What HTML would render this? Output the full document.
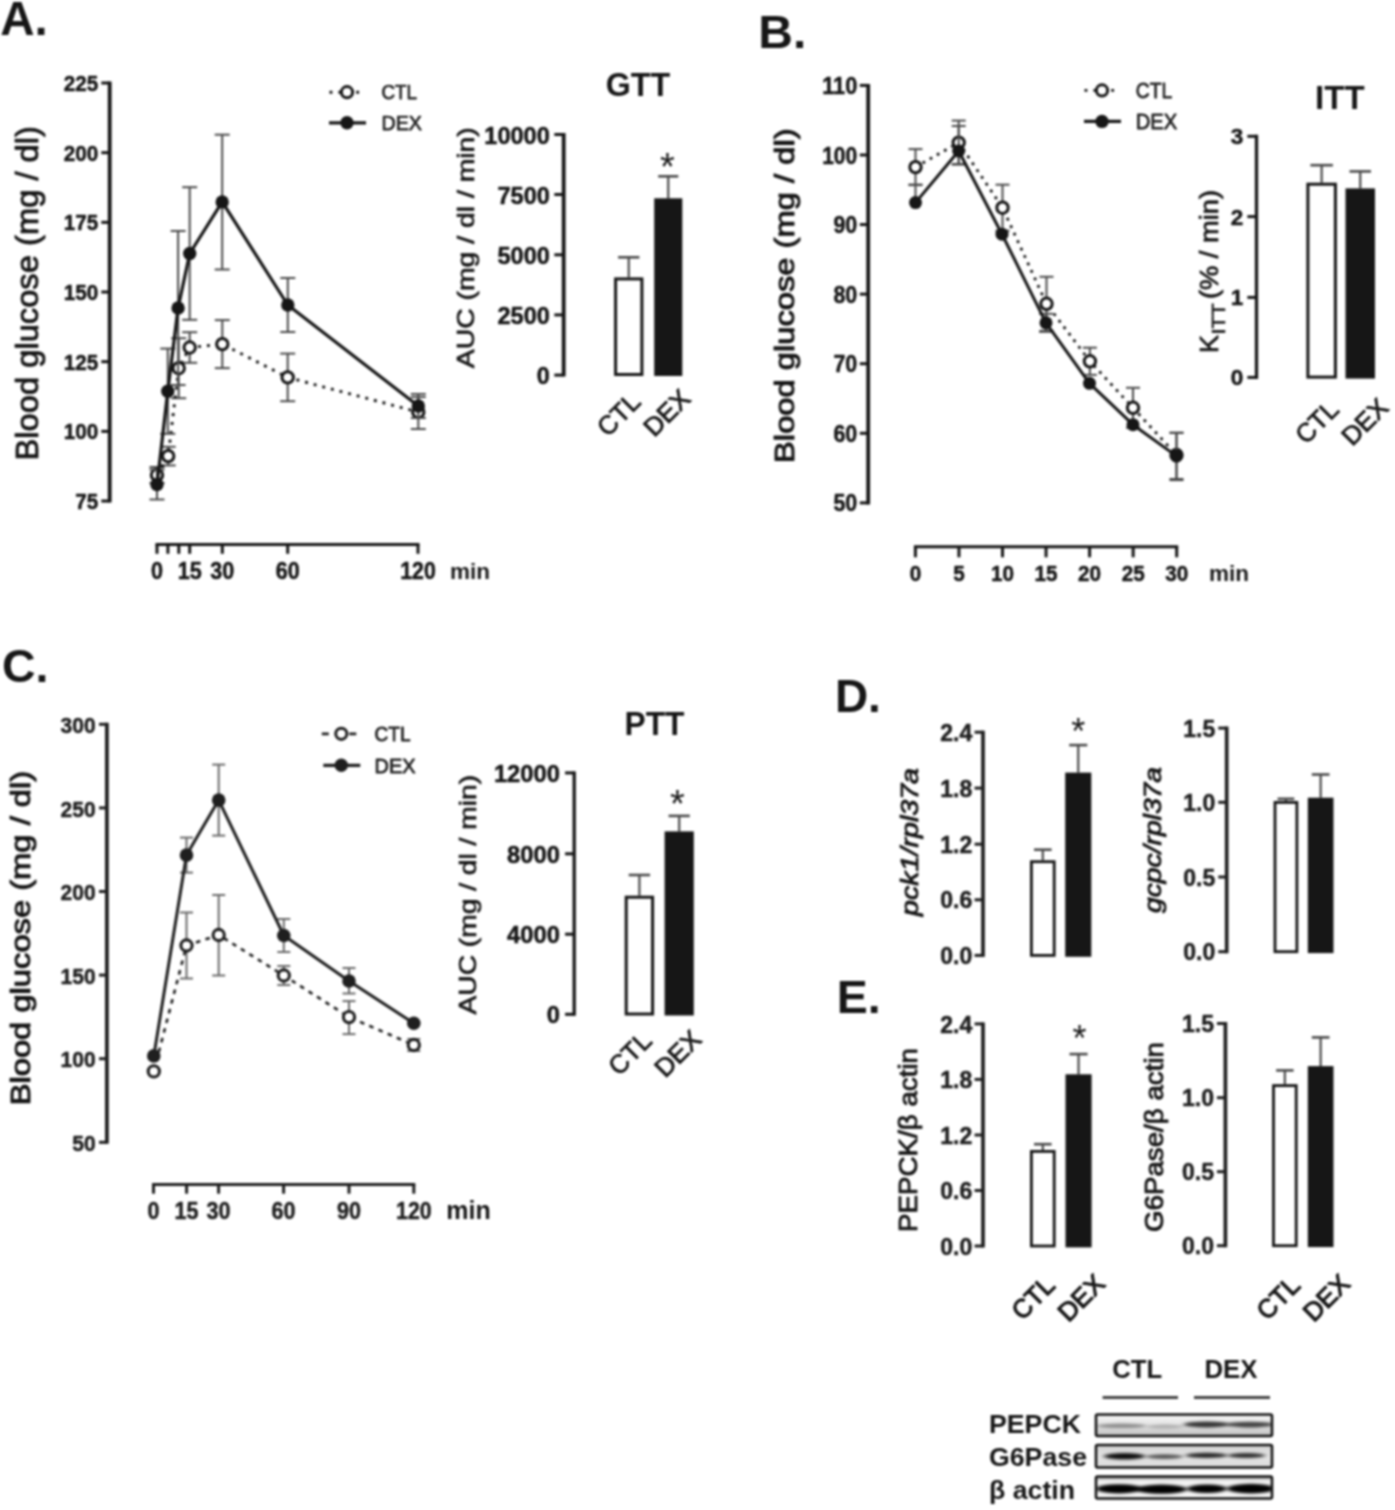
<!DOCTYPE html>
<html lang="en">
<head>
<meta charset="utf-8">
<title>Figure: GTT, ITT, PTT, pck1 and g6pc expression in CTL and DEX</title>
<style>
html, body { margin: 0; padding: 0; background: #fff; }
body { width: 1395px; height: 1510px; overflow: hidden; font-family: "Liberation Sans", sans-serif; }
svg { display: block; font-family: "Liberation Sans", sans-serif; filter: blur(0.8px); }
</style>
</head>
<body>
<svg width="1395" height="1510" viewBox="0 0 1395 1510">
<rect width="1395" height="1510" fill="#fff"/>
<text transform="translate(0.3 35.3)" font-size="48.5" font-weight="bold" text-anchor="start" fill="#161616" textLength="47.5" lengthAdjust="spacingAndGlyphs" >A.</text>
<text transform="translate(758.3 47.9)" font-size="46.5" font-weight="bold" text-anchor="start" fill="#161616" textLength="48" lengthAdjust="spacingAndGlyphs" >B.</text>
<text transform="translate(1.9 682)" font-size="46.5" font-weight="bold" text-anchor="start" fill="#161616" >C.</text>
<text transform="translate(834.9 712.3)" font-size="46" font-weight="bold" text-anchor="start" fill="#161616" >D.</text>
<text transform="translate(836.7 1012.9)" font-size="46.5" font-weight="bold" text-anchor="start" fill="#161616" >E.</text>
<path d="M109.7 81.5 V502.5" stroke="#161616" stroke-width="3.8" fill="none"/>
<line x1="101.3" y1="83.0" x2="109.7" y2="83.0" stroke="#161616" stroke-width="3" stroke-linecap="butt" />
<text transform="translate(98.2 91.0)" font-size="22.3" font-weight="bold" text-anchor="end" fill="#161616" textLength="34.5" lengthAdjust="spacingAndGlyphs" stroke="#161616" stroke-width="0.5" stroke-linejoin="round" >225</text>
<line x1="101.3" y1="152.67000000000002" x2="109.7" y2="152.67000000000002" stroke="#161616" stroke-width="3" stroke-linecap="butt" />
<text transform="translate(98.2 160.67000000000002)" font-size="22.3" font-weight="bold" text-anchor="end" fill="#161616" textLength="34.5" lengthAdjust="spacingAndGlyphs" stroke="#161616" stroke-width="0.5" stroke-linejoin="round" >200</text>
<line x1="101.3" y1="222.34" x2="109.7" y2="222.34" stroke="#161616" stroke-width="3" stroke-linecap="butt" />
<text transform="translate(98.2 230.34)" font-size="22.3" font-weight="bold" text-anchor="end" fill="#161616" textLength="34.5" lengthAdjust="spacingAndGlyphs" stroke="#161616" stroke-width="0.5" stroke-linejoin="round" >175</text>
<line x1="101.3" y1="292.01" x2="109.7" y2="292.01" stroke="#161616" stroke-width="3" stroke-linecap="butt" />
<text transform="translate(98.2 300.01)" font-size="22.3" font-weight="bold" text-anchor="end" fill="#161616" textLength="34.5" lengthAdjust="spacingAndGlyphs" stroke="#161616" stroke-width="0.5" stroke-linejoin="round" >150</text>
<line x1="101.3" y1="361.68" x2="109.7" y2="361.68" stroke="#161616" stroke-width="3" stroke-linecap="butt" />
<text transform="translate(98.2 369.68)" font-size="22.3" font-weight="bold" text-anchor="end" fill="#161616" textLength="34.5" lengthAdjust="spacingAndGlyphs" stroke="#161616" stroke-width="0.5" stroke-linejoin="round" >125</text>
<line x1="101.3" y1="431.35" x2="109.7" y2="431.35" stroke="#161616" stroke-width="3" stroke-linecap="butt" />
<text transform="translate(98.2 439.35)" font-size="22.3" font-weight="bold" text-anchor="end" fill="#161616" textLength="34.5" lengthAdjust="spacingAndGlyphs" stroke="#161616" stroke-width="0.5" stroke-linejoin="round" >100</text>
<line x1="101.3" y1="501.02" x2="109.7" y2="501.02" stroke="#161616" stroke-width="3" stroke-linecap="butt" />
<text transform="translate(98.2 509.02)" font-size="22.3" font-weight="bold" text-anchor="end" fill="#161616" textLength="23" lengthAdjust="spacingAndGlyphs" stroke="#161616" stroke-width="0.5" stroke-linejoin="round" >75</text>
<text transform="translate(38 293.3) rotate(-90)" font-size="30.5" font-weight="normal" text-anchor="middle" fill="#161616" textLength="334.5" lengthAdjust="spacingAndGlyphs" stroke="#161616" stroke-width="0.85" stroke-linejoin="round" >Blood glucose (mg / dl)</text>
<path d="M155.5 544.6 H419.5" stroke="#161616" stroke-width="3" fill="none"/>
<line x1="157" y1="544.6" x2="157" y2="553.8000000000001" stroke="#161616" stroke-width="3" stroke-linecap="butt" />
<line x1="167.9" y1="544.6" x2="167.9" y2="553.8000000000001" stroke="#161616" stroke-width="3" stroke-linecap="butt" />
<line x1="178.8" y1="544.6" x2="178.8" y2="553.8000000000001" stroke="#161616" stroke-width="3" stroke-linecap="butt" />
<line x1="189.7" y1="544.6" x2="189.7" y2="553.8000000000001" stroke="#161616" stroke-width="3" stroke-linecap="butt" />
<line x1="222.3" y1="544.6" x2="222.3" y2="553.8000000000001" stroke="#161616" stroke-width="3" stroke-linecap="butt" />
<line x1="287.7" y1="544.6" x2="287.7" y2="553.8000000000001" stroke="#161616" stroke-width="3" stroke-linecap="butt" />
<line x1="418" y1="544.6" x2="418" y2="553.8000000000001" stroke="#161616" stroke-width="3" stroke-linecap="butt" />
<text transform="translate(157 579)" font-size="23" font-weight="bold" text-anchor="middle" fill="#161616" textLength="12" lengthAdjust="spacingAndGlyphs" stroke="#161616" stroke-width="0.5" stroke-linejoin="round" >0</text>
<text transform="translate(189.7 579)" font-size="23" font-weight="bold" text-anchor="middle" fill="#161616" textLength="24" lengthAdjust="spacingAndGlyphs" stroke="#161616" stroke-width="0.5" stroke-linejoin="round" >15</text>
<text transform="translate(222.3 579)" font-size="23" font-weight="bold" text-anchor="middle" fill="#161616" textLength="24" lengthAdjust="spacingAndGlyphs" stroke="#161616" stroke-width="0.5" stroke-linejoin="round" >30</text>
<text transform="translate(287.7 579)" font-size="23" font-weight="bold" text-anchor="middle" fill="#161616" textLength="24" lengthAdjust="spacingAndGlyphs" stroke="#161616" stroke-width="0.5" stroke-linejoin="round" >60</text>
<text transform="translate(418 579)" font-size="23" font-weight="bold" text-anchor="middle" fill="#161616" textLength="35.5" lengthAdjust="spacingAndGlyphs" stroke="#161616" stroke-width="0.5" stroke-linejoin="round" >120</text>
<text transform="translate(450 579)" font-size="22.5" font-weight="bold" text-anchor="start" fill="#161616" textLength="40" lengthAdjust="spacingAndGlyphs" >min</text>
<line x1="157" y1="475" x2="157" y2="467" stroke="#4a4a4a" stroke-width="2" stroke-linecap="butt" />
<line x1="149.5" y1="467" x2="164.5" y2="467" stroke="#4a4a4a" stroke-width="2" stroke-linecap="butt" />
<line x1="157" y1="475" x2="157" y2="483" stroke="#4a4a4a" stroke-width="2" stroke-linecap="butt" />
<line x1="149.5" y1="483" x2="164.5" y2="483" stroke="#4a4a4a" stroke-width="2" stroke-linecap="butt" />
<line x1="168.2" y1="456.1" x2="168.2" y2="446.8" stroke="#4a4a4a" stroke-width="2" stroke-linecap="butt" />
<line x1="160.7" y1="446.8" x2="175.7" y2="446.8" stroke="#4a4a4a" stroke-width="2" stroke-linecap="butt" />
<line x1="168.2" y1="456.1" x2="168.2" y2="465.40000000000003" stroke="#4a4a4a" stroke-width="2" stroke-linecap="butt" />
<line x1="160.7" y1="465.40000000000003" x2="175.7" y2="465.40000000000003" stroke="#4a4a4a" stroke-width="2" stroke-linecap="butt" />
<line x1="178.7" y1="368.2" x2="178.7" y2="338.2" stroke="#4a4a4a" stroke-width="2" stroke-linecap="butt" />
<line x1="171.2" y1="338.2" x2="186.2" y2="338.2" stroke="#4a4a4a" stroke-width="2" stroke-linecap="butt" />
<line x1="178.7" y1="368.2" x2="178.7" y2="398.2" stroke="#4a4a4a" stroke-width="2" stroke-linecap="butt" />
<line x1="171.2" y1="398.2" x2="186.2" y2="398.2" stroke="#4a4a4a" stroke-width="2" stroke-linecap="butt" />
<line x1="189.7" y1="347.5" x2="189.7" y2="332.2" stroke="#4a4a4a" stroke-width="2" stroke-linecap="butt" />
<line x1="182.2" y1="332.2" x2="197.2" y2="332.2" stroke="#4a4a4a" stroke-width="2" stroke-linecap="butt" />
<line x1="189.7" y1="347.5" x2="189.7" y2="362.8" stroke="#4a4a4a" stroke-width="2" stroke-linecap="butt" />
<line x1="182.2" y1="362.8" x2="197.2" y2="362.8" stroke="#4a4a4a" stroke-width="2" stroke-linecap="butt" />
<line x1="222.3" y1="344.1" x2="222.3" y2="320.1" stroke="#4a4a4a" stroke-width="2" stroke-linecap="butt" />
<line x1="214.8" y1="320.1" x2="229.8" y2="320.1" stroke="#4a4a4a" stroke-width="2" stroke-linecap="butt" />
<line x1="222.3" y1="344.1" x2="222.3" y2="368.1" stroke="#4a4a4a" stroke-width="2" stroke-linecap="butt" />
<line x1="214.8" y1="368.1" x2="229.8" y2="368.1" stroke="#4a4a4a" stroke-width="2" stroke-linecap="butt" />
<line x1="287.7" y1="377.4" x2="287.7" y2="353.59999999999997" stroke="#4a4a4a" stroke-width="2" stroke-linecap="butt" />
<line x1="280.2" y1="353.59999999999997" x2="295.2" y2="353.59999999999997" stroke="#4a4a4a" stroke-width="2" stroke-linecap="butt" />
<line x1="287.7" y1="377.4" x2="287.7" y2="401.2" stroke="#4a4a4a" stroke-width="2" stroke-linecap="butt" />
<line x1="280.2" y1="401.2" x2="295.2" y2="401.2" stroke="#4a4a4a" stroke-width="2" stroke-linecap="butt" />
<line x1="418.3" y1="412" x2="418.3" y2="397" stroke="#4a4a4a" stroke-width="2" stroke-linecap="butt" />
<line x1="410.8" y1="397" x2="425.8" y2="397" stroke="#4a4a4a" stroke-width="2" stroke-linecap="butt" />
<line x1="418.3" y1="412" x2="418.3" y2="429" stroke="#4a4a4a" stroke-width="2" stroke-linecap="butt" />
<line x1="410.8" y1="429" x2="425.8" y2="429" stroke="#4a4a4a" stroke-width="2" stroke-linecap="butt" />
<polyline points="157,475 168.2,456.1 178.7,368.2 189.7,347.5 222.3,344.1 287.7,377.4 418.3,412" fill="none" stroke="#161616" stroke-width="2.9" stroke-dasharray="2.9 6"/>
<circle cx="157" cy="475" r="5.7" fill="#fff" stroke="#161616" stroke-width="3.0"/>
<circle cx="168.2" cy="456.1" r="5.7" fill="#fff" stroke="#161616" stroke-width="3.0"/>
<circle cx="178.7" cy="368.2" r="5.7" fill="#fff" stroke="#161616" stroke-width="3.0"/>
<circle cx="189.7" cy="347.5" r="5.7" fill="#fff" stroke="#161616" stroke-width="3.0"/>
<circle cx="222.3" cy="344.1" r="5.7" fill="#fff" stroke="#161616" stroke-width="3.0"/>
<circle cx="287.7" cy="377.4" r="5.7" fill="#fff" stroke="#161616" stroke-width="3.0"/>
<circle cx="418.3" cy="412" r="5.7" fill="#fff" stroke="#161616" stroke-width="3.0"/>
<line x1="157" y1="484.5" x2="157" y2="469.5" stroke="#4a4a4a" stroke-width="2" stroke-linecap="butt" />
<line x1="149.5" y1="469.5" x2="164.5" y2="469.5" stroke="#4a4a4a" stroke-width="2" stroke-linecap="butt" />
<line x1="157" y1="484.5" x2="157" y2="499.5" stroke="#4a4a4a" stroke-width="2" stroke-linecap="butt" />
<line x1="149.5" y1="499.5" x2="164.5" y2="499.5" stroke="#4a4a4a" stroke-width="2" stroke-linecap="butt" />
<line x1="167.8" y1="391.2" x2="167.8" y2="348.59999999999997" stroke="#4a4a4a" stroke-width="2" stroke-linecap="butt" />
<line x1="160.3" y1="348.59999999999997" x2="175.3" y2="348.59999999999997" stroke="#4a4a4a" stroke-width="2" stroke-linecap="butt" />
<line x1="167.8" y1="391.2" x2="167.8" y2="433.8" stroke="#4a4a4a" stroke-width="2" stroke-linecap="butt" />
<line x1="160.3" y1="433.8" x2="175.3" y2="433.8" stroke="#4a4a4a" stroke-width="2" stroke-linecap="butt" />
<line x1="178.1" y1="308" x2="178.1" y2="231" stroke="#4a4a4a" stroke-width="2" stroke-linecap="butt" />
<line x1="170.6" y1="231" x2="185.6" y2="231" stroke="#4a4a4a" stroke-width="2" stroke-linecap="butt" />
<line x1="178.1" y1="308" x2="178.1" y2="385" stroke="#4a4a4a" stroke-width="2" stroke-linecap="butt" />
<line x1="170.6" y1="385" x2="185.6" y2="385" stroke="#4a4a4a" stroke-width="2" stroke-linecap="butt" />
<line x1="189.7" y1="253.5" x2="189.7" y2="187.2" stroke="#4a4a4a" stroke-width="2" stroke-linecap="butt" />
<line x1="182.2" y1="187.2" x2="197.2" y2="187.2" stroke="#4a4a4a" stroke-width="2" stroke-linecap="butt" />
<line x1="189.7" y1="253.5" x2="189.7" y2="319.8" stroke="#4a4a4a" stroke-width="2" stroke-linecap="butt" />
<line x1="182.2" y1="319.8" x2="197.2" y2="319.8" stroke="#4a4a4a" stroke-width="2" stroke-linecap="butt" />
<line x1="222.2" y1="201.9" x2="222.2" y2="134.7" stroke="#4a4a4a" stroke-width="2" stroke-linecap="butt" />
<line x1="214.7" y1="134.7" x2="229.7" y2="134.7" stroke="#4a4a4a" stroke-width="2" stroke-linecap="butt" />
<line x1="222.2" y1="201.9" x2="222.2" y2="269.5" stroke="#4a4a4a" stroke-width="2" stroke-linecap="butt" />
<line x1="214.7" y1="269.5" x2="229.7" y2="269.5" stroke="#4a4a4a" stroke-width="2" stroke-linecap="butt" />
<line x1="287.8" y1="305" x2="287.8" y2="278" stroke="#4a4a4a" stroke-width="2" stroke-linecap="butt" />
<line x1="280.3" y1="278" x2="295.3" y2="278" stroke="#4a4a4a" stroke-width="2" stroke-linecap="butt" />
<line x1="287.8" y1="305" x2="287.8" y2="332" stroke="#4a4a4a" stroke-width="2" stroke-linecap="butt" />
<line x1="280.3" y1="332" x2="295.3" y2="332" stroke="#4a4a4a" stroke-width="2" stroke-linecap="butt" />
<line x1="418.3" y1="406" x2="418.3" y2="394" stroke="#4a4a4a" stroke-width="2" stroke-linecap="butt" />
<line x1="410.8" y1="394" x2="425.8" y2="394" stroke="#4a4a4a" stroke-width="2" stroke-linecap="butt" />
<line x1="418.3" y1="406" x2="418.3" y2="418" stroke="#4a4a4a" stroke-width="2" stroke-linecap="butt" />
<line x1="410.8" y1="418" x2="425.8" y2="418" stroke="#4a4a4a" stroke-width="2" stroke-linecap="butt" />
<polyline points="157,484.5 167.8,391.2 178.1,308 189.7,253.5 222.2,201.9 287.8,305 418.3,406" fill="none" stroke="#161616" stroke-width="3.2" stroke-linejoin="round"/>
<circle cx="157" cy="484.5" r="6.7" fill="#161616"/>
<circle cx="167.8" cy="391.2" r="6.7" fill="#161616"/>
<circle cx="178.1" cy="308" r="6.7" fill="#161616"/>
<circle cx="189.7" cy="253.5" r="6.7" fill="#161616"/>
<circle cx="222.2" cy="201.9" r="6.7" fill="#161616"/>
<circle cx="287.8" cy="305" r="6.7" fill="#161616"/>
<circle cx="418.3" cy="406" r="6.7" fill="#161616"/>
<line x1="329.5" y1="92.2" x2="362.5" y2="92.2" stroke="#161616" stroke-width="2.9" stroke-dasharray="2.9 6"/>
<circle cx="347" cy="92.2" r="5.6" fill="#fff" stroke="#161616" stroke-width="3"/>
<text transform="translate(381.5 99.4)" font-size="20" font-weight="normal" text-anchor="start" fill="#222" textLength="35.5" lengthAdjust="spacingAndGlyphs" stroke="#222" stroke-width="0.75" stroke-linejoin="round" >CTL</text>
<line x1="329" y1="122.8" x2="366" y2="122.8" stroke="#161616" stroke-width="3.2" stroke-linecap="butt" />
<circle cx="347" cy="122.8" r="6.7" fill="#161616"/>
<text transform="translate(381.5 130.0)" font-size="20" font-weight="normal" text-anchor="start" fill="#222" textLength="40.5" lengthAdjust="spacingAndGlyphs" stroke="#222" stroke-width="0.75" stroke-linejoin="round" >DEX</text>
<text transform="translate(637.9 95.8)" font-size="33" font-weight="bold" text-anchor="middle" fill="#161616" textLength="64.5" lengthAdjust="spacingAndGlyphs" >GTT</text>
<path d="M563.7 133.0 V376.6" stroke="#161616" stroke-width="3.8" fill="none"/>
<line x1="554.3000000000001" y1="134.5" x2="563.7" y2="134.5" stroke="#161616" stroke-width="3" stroke-linecap="butt" />
<text transform="translate(549.8 143.7)" font-size="24" font-weight="bold" text-anchor="end" fill="#161616" textLength="65.5" lengthAdjust="spacingAndGlyphs" stroke="#161616" stroke-width="0.5" stroke-linejoin="round" >10000</text>
<line x1="554.3000000000001" y1="194.5" x2="563.7" y2="194.5" stroke="#161616" stroke-width="3" stroke-linecap="butt" />
<text transform="translate(549.8 203.7)" font-size="24" font-weight="bold" text-anchor="end" fill="#161616" textLength="52.3" lengthAdjust="spacingAndGlyphs" stroke="#161616" stroke-width="0.5" stroke-linejoin="round" >7500</text>
<line x1="554.3000000000001" y1="254.8" x2="563.7" y2="254.8" stroke="#161616" stroke-width="3" stroke-linecap="butt" />
<text transform="translate(549.8 264.0)" font-size="24" font-weight="bold" text-anchor="end" fill="#161616" textLength="52.3" lengthAdjust="spacingAndGlyphs" stroke="#161616" stroke-width="0.5" stroke-linejoin="round" >5000</text>
<line x1="554.3000000000001" y1="314.9" x2="563.7" y2="314.9" stroke="#161616" stroke-width="3" stroke-linecap="butt" />
<text transform="translate(549.8 324.09999999999997)" font-size="24" font-weight="bold" text-anchor="end" fill="#161616" textLength="52.3" lengthAdjust="spacingAndGlyphs" stroke="#161616" stroke-width="0.5" stroke-linejoin="round" >2500</text>
<line x1="554.3000000000001" y1="375.1" x2="563.7" y2="375.1" stroke="#161616" stroke-width="3" stroke-linecap="butt" />
<text transform="translate(549.8 384.3)" font-size="24" font-weight="bold" text-anchor="end" fill="#161616" textLength="13" lengthAdjust="spacingAndGlyphs" stroke="#161616" stroke-width="0.5" stroke-linejoin="round" >0</text>
<text transform="translate(474.3 247.7) rotate(-90)" font-size="24.5" font-weight="normal" text-anchor="middle" fill="#161616" textLength="241" lengthAdjust="spacingAndGlyphs" stroke="#161616" stroke-width="0.7" stroke-linejoin="round" >AUC (mg / dl / min)</text>
<line x1="628.75" y1="277.4" x2="628.75" y2="257.3" stroke="#4a4a4a" stroke-width="2.2" stroke-linecap="butt" />
<line x1="618.1" y1="257.3" x2="639.4" y2="257.3" stroke="#4a4a4a" stroke-width="2.6" stroke-linecap="butt" />
<rect x="615.6" y="278.9" width="26.299999999999955" height="95.60000000000002" fill="#fff" stroke="#161616" stroke-width="3"/>
<line x1="668.25" y1="198.3" x2="668.25" y2="176.3" stroke="#4a4a4a" stroke-width="2.2" stroke-linecap="butt" />
<line x1="658.2" y1="176.3" x2="678.3" y2="176.3" stroke="#4a4a4a" stroke-width="2.6" stroke-linecap="butt" />
<rect x="654.2" y="198.3" width="28.09999999999991" height="177.7" fill="#161616"/>
<text transform="translate(667.3 179.5)" font-size="38" font-weight="normal" text-anchor="middle" fill="#161616" >*</text>
<text transform="translate(625.0 420.6) rotate(-45)" font-size="26" font-weight="normal" text-anchor="middle" fill="#161616" textLength="48.5" lengthAdjust="spacingAndGlyphs" stroke="#161616" stroke-width="0.8" stroke-linejoin="round" >CTL</text>
<text transform="translate(673.1 419.2) rotate(-45)" font-size="26" font-weight="normal" text-anchor="middle" fill="#161616" textLength="53.5" lengthAdjust="spacingAndGlyphs" stroke="#161616" stroke-width="0.8" stroke-linejoin="round" >DEX</text>
<path d="M868.2 83.9 V504.4" stroke="#161616" stroke-width="3.8" fill="none"/>
<line x1="859.8000000000001" y1="85.4" x2="868.2" y2="85.4" stroke="#161616" stroke-width="3" stroke-linecap="butt" />
<text transform="translate(857.2 94.0)" font-size="23.2" font-weight="bold" text-anchor="end" fill="#161616" textLength="35" lengthAdjust="spacingAndGlyphs" stroke="#161616" stroke-width="0.5" stroke-linejoin="round" >110</text>
<line x1="859.8000000000001" y1="154.98000000000002" x2="868.2" y2="154.98000000000002" stroke="#161616" stroke-width="3" stroke-linecap="butt" />
<text transform="translate(857.2 163.58)" font-size="23.2" font-weight="bold" text-anchor="end" fill="#161616" textLength="35" lengthAdjust="spacingAndGlyphs" stroke="#161616" stroke-width="0.5" stroke-linejoin="round" >100</text>
<line x1="859.8000000000001" y1="224.56" x2="868.2" y2="224.56" stroke="#161616" stroke-width="3" stroke-linecap="butt" />
<text transform="translate(857.2 233.16)" font-size="23.2" font-weight="bold" text-anchor="end" fill="#161616" textLength="23.8" lengthAdjust="spacingAndGlyphs" stroke="#161616" stroke-width="0.5" stroke-linejoin="round" >90</text>
<line x1="859.8000000000001" y1="294.14" x2="868.2" y2="294.14" stroke="#161616" stroke-width="3" stroke-linecap="butt" />
<text transform="translate(857.2 302.74)" font-size="23.2" font-weight="bold" text-anchor="end" fill="#161616" textLength="23.8" lengthAdjust="spacingAndGlyphs" stroke="#161616" stroke-width="0.5" stroke-linejoin="round" >80</text>
<line x1="859.8000000000001" y1="363.72" x2="868.2" y2="363.72" stroke="#161616" stroke-width="3" stroke-linecap="butt" />
<text transform="translate(857.2 372.32000000000005)" font-size="23.2" font-weight="bold" text-anchor="end" fill="#161616" textLength="23.8" lengthAdjust="spacingAndGlyphs" stroke="#161616" stroke-width="0.5" stroke-linejoin="round" >70</text>
<line x1="859.8000000000001" y1="433.29999999999995" x2="868.2" y2="433.29999999999995" stroke="#161616" stroke-width="3" stroke-linecap="butt" />
<text transform="translate(857.2 441.9)" font-size="23.2" font-weight="bold" text-anchor="end" fill="#161616" textLength="23.8" lengthAdjust="spacingAndGlyphs" stroke="#161616" stroke-width="0.5" stroke-linejoin="round" >60</text>
<line x1="859.8000000000001" y1="502.88" x2="868.2" y2="502.88" stroke="#161616" stroke-width="3" stroke-linecap="butt" />
<text transform="translate(857.2 511.48)" font-size="23.2" font-weight="bold" text-anchor="end" fill="#161616" textLength="23.8" lengthAdjust="spacingAndGlyphs" stroke="#161616" stroke-width="0.5" stroke-linejoin="round" >50</text>
<text transform="translate(794.3 295.7) rotate(-90)" font-size="28" font-weight="normal" text-anchor="middle" fill="#161616" textLength="334.5" lengthAdjust="spacingAndGlyphs" stroke="#161616" stroke-width="1.0" stroke-linejoin="round" >Blood glucose (mg / dl)</text>
<path d="M913.9 546.8 H1178.1999999999998" stroke="#161616" stroke-width="3" fill="none"/>
<line x1="915.4" y1="546.8" x2="915.4" y2="557.3" stroke="#161616" stroke-width="3" stroke-linecap="butt" />
<line x1="958.9499999999999" y1="546.8" x2="958.9499999999999" y2="557.3" stroke="#161616" stroke-width="3" stroke-linecap="butt" />
<line x1="1002.5" y1="546.8" x2="1002.5" y2="557.3" stroke="#161616" stroke-width="3" stroke-linecap="butt" />
<line x1="1046.05" y1="546.8" x2="1046.05" y2="557.3" stroke="#161616" stroke-width="3" stroke-linecap="butt" />
<line x1="1089.6" y1="546.8" x2="1089.6" y2="557.3" stroke="#161616" stroke-width="3" stroke-linecap="butt" />
<line x1="1133.15" y1="546.8" x2="1133.15" y2="557.3" stroke="#161616" stroke-width="3" stroke-linecap="butt" />
<line x1="1176.6999999999998" y1="546.8" x2="1176.6999999999998" y2="557.3" stroke="#161616" stroke-width="3" stroke-linecap="butt" />
<text transform="translate(915.4 581)" font-size="22.5" font-weight="bold" text-anchor="middle" fill="#161616" textLength="11.5" lengthAdjust="spacingAndGlyphs" stroke="#161616" stroke-width="0.5" stroke-linejoin="round" >0</text>
<text transform="translate(958.9499999999999 581)" font-size="22.5" font-weight="bold" text-anchor="middle" fill="#161616" textLength="11.5" lengthAdjust="spacingAndGlyphs" stroke="#161616" stroke-width="0.5" stroke-linejoin="round" >5</text>
<text transform="translate(1002.5 581)" font-size="22.5" font-weight="bold" text-anchor="middle" fill="#161616" textLength="23" lengthAdjust="spacingAndGlyphs" stroke="#161616" stroke-width="0.5" stroke-linejoin="round" >10</text>
<text transform="translate(1046.05 581)" font-size="22.5" font-weight="bold" text-anchor="middle" fill="#161616" textLength="23" lengthAdjust="spacingAndGlyphs" stroke="#161616" stroke-width="0.5" stroke-linejoin="round" >15</text>
<text transform="translate(1089.6 581)" font-size="22.5" font-weight="bold" text-anchor="middle" fill="#161616" textLength="23" lengthAdjust="spacingAndGlyphs" stroke="#161616" stroke-width="0.5" stroke-linejoin="round" >20</text>
<text transform="translate(1133.15 581)" font-size="22.5" font-weight="bold" text-anchor="middle" fill="#161616" textLength="23" lengthAdjust="spacingAndGlyphs" stroke="#161616" stroke-width="0.5" stroke-linejoin="round" >25</text>
<text transform="translate(1176.6999999999998 581)" font-size="22.5" font-weight="bold" text-anchor="middle" fill="#161616" textLength="23" lengthAdjust="spacingAndGlyphs" stroke="#161616" stroke-width="0.5" stroke-linejoin="round" >30</text>
<text transform="translate(1209 581)" font-size="22.5" font-weight="bold" text-anchor="start" fill="#161616" textLength="40" lengthAdjust="spacingAndGlyphs" >min</text>
<line x1="915.5" y1="167.1" x2="915.5" y2="149.1" stroke="#4a4a4a" stroke-width="2" stroke-linecap="butt" />
<line x1="908.5" y1="149.1" x2="922.5" y2="149.1" stroke="#4a4a4a" stroke-width="2" stroke-linecap="butt" />
<line x1="915.5" y1="167.1" x2="915.5" y2="185.1" stroke="#4a4a4a" stroke-width="2" stroke-linecap="butt" />
<line x1="908.5" y1="185.1" x2="922.5" y2="185.1" stroke="#4a4a4a" stroke-width="2" stroke-linecap="butt" />
<line x1="958.7" y1="142.6" x2="958.7" y2="120.6" stroke="#4a4a4a" stroke-width="2" stroke-linecap="butt" />
<line x1="951.7" y1="120.6" x2="965.7" y2="120.6" stroke="#4a4a4a" stroke-width="2" stroke-linecap="butt" />
<line x1="958.7" y1="142.6" x2="958.7" y2="164.6" stroke="#4a4a4a" stroke-width="2" stroke-linecap="butt" />
<line x1="951.7" y1="164.6" x2="965.7" y2="164.6" stroke="#4a4a4a" stroke-width="2" stroke-linecap="butt" />
<line x1="1002.5" y1="207.7" x2="1002.5" y2="184.7" stroke="#4a4a4a" stroke-width="2" stroke-linecap="butt" />
<line x1="995.5" y1="184.7" x2="1009.5" y2="184.7" stroke="#4a4a4a" stroke-width="2" stroke-linecap="butt" />
<line x1="1002.5" y1="207.7" x2="1002.5" y2="230.7" stroke="#4a4a4a" stroke-width="2" stroke-linecap="butt" />
<line x1="995.5" y1="230.7" x2="1009.5" y2="230.7" stroke="#4a4a4a" stroke-width="2" stroke-linecap="butt" />
<line x1="1046.5" y1="303.8" x2="1046.5" y2="276.8" stroke="#4a4a4a" stroke-width="2" stroke-linecap="butt" />
<line x1="1039.5" y1="276.8" x2="1053.5" y2="276.8" stroke="#4a4a4a" stroke-width="2" stroke-linecap="butt" />
<line x1="1046.5" y1="303.8" x2="1046.5" y2="330.8" stroke="#4a4a4a" stroke-width="2" stroke-linecap="butt" />
<line x1="1039.5" y1="330.8" x2="1053.5" y2="330.8" stroke="#4a4a4a" stroke-width="2" stroke-linecap="butt" />
<line x1="1089.9" y1="361.3" x2="1089.9" y2="347.7" stroke="#4a4a4a" stroke-width="2" stroke-linecap="butt" />
<line x1="1082.9" y1="347.7" x2="1096.9" y2="347.7" stroke="#4a4a4a" stroke-width="2" stroke-linecap="butt" />
<line x1="1089.9" y1="361.3" x2="1089.9" y2="374.90000000000003" stroke="#4a4a4a" stroke-width="2" stroke-linecap="butt" />
<line x1="1082.9" y1="374.90000000000003" x2="1096.9" y2="374.90000000000003" stroke="#4a4a4a" stroke-width="2" stroke-linecap="butt" />
<line x1="1133" y1="407.8" x2="1133" y2="387.8" stroke="#4a4a4a" stroke-width="2" stroke-linecap="butt" />
<line x1="1126" y1="387.8" x2="1140" y2="387.8" stroke="#4a4a4a" stroke-width="2" stroke-linecap="butt" />
<line x1="1133" y1="407.8" x2="1133" y2="427.8" stroke="#4a4a4a" stroke-width="2" stroke-linecap="butt" />
<line x1="1126" y1="427.8" x2="1140" y2="427.8" stroke="#4a4a4a" stroke-width="2" stroke-linecap="butt" />
<line x1="1176.5" y1="455" x2="1176.5" y2="433" stroke="#4a4a4a" stroke-width="2" stroke-linecap="butt" />
<line x1="1169.5" y1="433" x2="1183.5" y2="433" stroke="#4a4a4a" stroke-width="2" stroke-linecap="butt" />
<line x1="1176.5" y1="455" x2="1176.5" y2="479" stroke="#4a4a4a" stroke-width="2" stroke-linecap="butt" />
<line x1="1169.5" y1="479" x2="1183.5" y2="479" stroke="#4a4a4a" stroke-width="2" stroke-linecap="butt" />
<polyline points="915.5,167.1 958.7,142.6 1002.5,207.7 1046.5,303.8 1089.9,361.3 1133,407.8 1176.5,455" fill="none" stroke="#161616" stroke-width="2.8" stroke-dasharray="2.8 5.4"/>
<circle cx="915.5" cy="167.1" r="5.7" fill="#fff" stroke="#161616" stroke-width="3.0"/>
<circle cx="958.7" cy="142.6" r="5.7" fill="#fff" stroke="#161616" stroke-width="3.0"/>
<circle cx="1002.5" cy="207.7" r="5.7" fill="#fff" stroke="#161616" stroke-width="3.0"/>
<circle cx="1046.5" cy="303.8" r="5.7" fill="#fff" stroke="#161616" stroke-width="3.0"/>
<circle cx="1089.9" cy="361.3" r="5.7" fill="#fff" stroke="#161616" stroke-width="3.0"/>
<circle cx="1133" cy="407.8" r="5.7" fill="#fff" stroke="#161616" stroke-width="3.0"/>
<circle cx="1176.5" cy="455" r="5.7" fill="#fff" stroke="#161616" stroke-width="3.0"/>
<line x1="915.5" y1="202.6" x2="915.5" y2="184.6" stroke="#4a4a4a" stroke-width="2" stroke-linecap="butt" />
<line x1="908.5" y1="184.6" x2="922.5" y2="184.6" stroke="#4a4a4a" stroke-width="2" stroke-linecap="butt" />
<line x1="958.7" y1="151" x2="958.7" y2="126" stroke="#4a4a4a" stroke-width="2" stroke-linecap="butt" />
<line x1="951.7" y1="126" x2="965.7" y2="126" stroke="#4a4a4a" stroke-width="2" stroke-linecap="butt" />
<line x1="958.7" y1="151" x2="958.7" y2="164" stroke="#4a4a4a" stroke-width="2" stroke-linecap="butt" />
<line x1="951.7" y1="164" x2="965.7" y2="164" stroke="#4a4a4a" stroke-width="2" stroke-linecap="butt" />
<line x1="1046" y1="322.8" x2="1046" y2="313.8" stroke="#4a4a4a" stroke-width="2" stroke-linecap="butt" />
<line x1="1039" y1="313.8" x2="1053" y2="313.8" stroke="#4a4a4a" stroke-width="2" stroke-linecap="butt" />
<line x1="1046" y1="322.8" x2="1046" y2="331.8" stroke="#4a4a4a" stroke-width="2" stroke-linecap="butt" />
<line x1="1039" y1="331.8" x2="1053" y2="331.8" stroke="#4a4a4a" stroke-width="2" stroke-linecap="butt" />
<line x1="1176.5" y1="456.1" x2="1176.5" y2="432.6" stroke="#4a4a4a" stroke-width="2" stroke-linecap="butt" />
<line x1="1169.5" y1="432.6" x2="1183.5" y2="432.6" stroke="#4a4a4a" stroke-width="2" stroke-linecap="butt" />
<line x1="1176.5" y1="456.1" x2="1176.5" y2="480.1" stroke="#4a4a4a" stroke-width="2" stroke-linecap="butt" />
<line x1="1169.5" y1="480.1" x2="1183.5" y2="480.1" stroke="#4a4a4a" stroke-width="2" stroke-linecap="butt" />
<polyline points="915.5,202.6 958.7,151 1002,234.2 1046,322.8 1089.5,383.3 1133,424.7 1176.5,456.1" fill="none" stroke="#161616" stroke-width="3.0" stroke-linejoin="round"/>
<circle cx="915.5" cy="202.6" r="6.5" fill="#161616"/>
<circle cx="958.7" cy="151" r="6.5" fill="#161616"/>
<circle cx="1002" cy="234.2" r="6.5" fill="#161616"/>
<circle cx="1046" cy="322.8" r="6.5" fill="#161616"/>
<circle cx="1089.5" cy="383.3" r="6.5" fill="#161616"/>
<circle cx="1133" cy="424.7" r="6.5" fill="#161616"/>
<circle cx="1176.5" cy="456.1" r="6.5" fill="#161616"/>
<line x1="1084.5" y1="90.4" x2="1117.5" y2="90.4" stroke="#161616" stroke-width="2.9" stroke-dasharray="2.9 6"/>
<circle cx="1102" cy="90.4" r="5.6" fill="#fff" stroke="#161616" stroke-width="3"/>
<text transform="translate(1135.8 98.4)" font-size="22" font-weight="normal" text-anchor="start" fill="#222" textLength="36.5" lengthAdjust="spacingAndGlyphs" stroke="#222" stroke-width="0.8" stroke-linejoin="round" >CTL</text>
<line x1="1084" y1="121.4" x2="1121" y2="121.4" stroke="#161616" stroke-width="3.2" stroke-linecap="butt" />
<circle cx="1102" cy="121.4" r="6.7" fill="#161616"/>
<text transform="translate(1135.8 129.4)" font-size="22" font-weight="normal" text-anchor="start" fill="#222" textLength="41.5" lengthAdjust="spacingAndGlyphs" stroke="#222" stroke-width="0.8" stroke-linejoin="round" >DEX</text>
<text transform="translate(1339.8 109.2)" font-size="33.5" font-weight="bold" text-anchor="middle" fill="#161616" textLength="49.5" lengthAdjust="spacingAndGlyphs" >ITT</text>
<path d="M1256.5 134.8 V378.9" stroke="#161616" stroke-width="3.3" fill="none"/>
<line x1="1247.35" y1="136.3" x2="1256.5" y2="136.3" stroke="#161616" stroke-width="3" stroke-linecap="butt" />
<text transform="translate(1243.2 144.3)" font-size="22.5" font-weight="bold" text-anchor="end" fill="#161616" stroke="#161616" stroke-width="0.5" stroke-linejoin="round" >3</text>
<line x1="1247.35" y1="216.6" x2="1256.5" y2="216.6" stroke="#161616" stroke-width="3" stroke-linecap="butt" />
<text transform="translate(1243.2 224.6)" font-size="22.5" font-weight="bold" text-anchor="end" fill="#161616" stroke="#161616" stroke-width="0.5" stroke-linejoin="round" >2</text>
<line x1="1247.35" y1="297.4" x2="1256.5" y2="297.4" stroke="#161616" stroke-width="3" stroke-linecap="butt" />
<text transform="translate(1243.2 305.4)" font-size="22.5" font-weight="bold" text-anchor="end" fill="#161616" stroke="#161616" stroke-width="0.5" stroke-linejoin="round" >1</text>
<line x1="1247.35" y1="377.4" x2="1256.5" y2="377.4" stroke="#161616" stroke-width="3" stroke-linecap="butt" />
<text transform="translate(1243.2 385.4)" font-size="22.5" font-weight="bold" text-anchor="end" fill="#161616" stroke="#161616" stroke-width="0.5" stroke-linejoin="round" >0</text>
<text transform="translate(1218 353) rotate(-90)" font-size="25.5" font-weight="normal" text-anchor="start" fill="#161616" textLength="18" lengthAdjust="spacingAndGlyphs" stroke="#161616" stroke-width="0.75" stroke-linejoin="round" >K</text>
<text transform="translate(1224.5 334.3) rotate(-90)" font-size="18" font-weight="normal" text-anchor="start" fill="#161616" textLength="31" lengthAdjust="spacingAndGlyphs" stroke="#161616" stroke-width="0.6" stroke-linejoin="round" >ITT</text>
<text transform="translate(1218 299) rotate(-90)" font-size="25.5" font-weight="normal" text-anchor="start" fill="#161616" textLength="109" lengthAdjust="spacingAndGlyphs" stroke="#161616" stroke-width="0.75" stroke-linejoin="round" >(% / min)</text>
<line x1="1321.65" y1="182.7" x2="1321.65" y2="165.2" stroke="#4a4a4a" stroke-width="2.2" stroke-linecap="butt" />
<line x1="1310.4" y1="165.2" x2="1332.9" y2="165.2" stroke="#4a4a4a" stroke-width="2.6" stroke-linecap="butt" />
<rect x="1307.9" y="184.2" width="27.5" height="192.90000000000003" fill="#fff" stroke="#161616" stroke-width="3"/>
<line x1="1360.25" y1="188.4" x2="1360.25" y2="171.4" stroke="#4a4a4a" stroke-width="2.2" stroke-linecap="butt" />
<line x1="1349.5" y1="171.4" x2="1371.0" y2="171.4" stroke="#4a4a4a" stroke-width="2.6" stroke-linecap="butt" />
<rect x="1345.5" y="188.4" width="29.5" height="190.20000000000002" fill="#161616"/>
<text transform="translate(1323.1 428.2) rotate(-45)" font-size="26" font-weight="normal" text-anchor="middle" fill="#161616" textLength="48.5" lengthAdjust="spacingAndGlyphs" stroke="#161616" stroke-width="0.8" stroke-linejoin="round" >CTL</text>
<text transform="translate(1371.2 428.2) rotate(-45)" font-size="26" font-weight="normal" text-anchor="middle" fill="#161616" textLength="53.5" lengthAdjust="spacingAndGlyphs" stroke="#161616" stroke-width="0.8" stroke-linejoin="round" >DEX</text>
<path d="M106.9 722.8 V1143.8" stroke="#1f1f1f" stroke-width="3.8" fill="none"/>
<line x1="99.0" y1="724.3" x2="106.9" y2="724.3" stroke="#1f1f1f" stroke-width="3" stroke-linecap="butt" />
<text transform="translate(95.6 733.0)" font-size="22.5" font-weight="bold" text-anchor="end" fill="#1f1f1f" textLength="35" lengthAdjust="spacingAndGlyphs" stroke="#1f1f1f" stroke-width="0.5" stroke-linejoin="round" >300</text>
<line x1="99.0" y1="807.9" x2="106.9" y2="807.9" stroke="#1f1f1f" stroke-width="3" stroke-linecap="butt" />
<text transform="translate(95.6 816.6)" font-size="22.5" font-weight="bold" text-anchor="end" fill="#1f1f1f" textLength="35" lengthAdjust="spacingAndGlyphs" stroke="#1f1f1f" stroke-width="0.5" stroke-linejoin="round" >250</text>
<line x1="99.0" y1="891.5" x2="106.9" y2="891.5" stroke="#1f1f1f" stroke-width="3" stroke-linecap="butt" />
<text transform="translate(95.6 900.2)" font-size="22.5" font-weight="bold" text-anchor="end" fill="#1f1f1f" textLength="35" lengthAdjust="spacingAndGlyphs" stroke="#1f1f1f" stroke-width="0.5" stroke-linejoin="round" >200</text>
<line x1="99.0" y1="975.0999999999999" x2="106.9" y2="975.0999999999999" stroke="#1f1f1f" stroke-width="3" stroke-linecap="butt" />
<text transform="translate(95.6 983.8)" font-size="22.5" font-weight="bold" text-anchor="end" fill="#1f1f1f" textLength="35" lengthAdjust="spacingAndGlyphs" stroke="#1f1f1f" stroke-width="0.5" stroke-linejoin="round" >150</text>
<line x1="99.0" y1="1058.6999999999998" x2="106.9" y2="1058.6999999999998" stroke="#1f1f1f" stroke-width="3" stroke-linecap="butt" />
<text transform="translate(95.6 1067.3999999999999)" font-size="22.5" font-weight="bold" text-anchor="end" fill="#1f1f1f" textLength="35" lengthAdjust="spacingAndGlyphs" stroke="#1f1f1f" stroke-width="0.5" stroke-linejoin="round" >100</text>
<line x1="99.0" y1="1142.3" x2="106.9" y2="1142.3" stroke="#1f1f1f" stroke-width="3" stroke-linecap="butt" />
<text transform="translate(95.6 1151.0)" font-size="22.5" font-weight="bold" text-anchor="end" fill="#1f1f1f" textLength="23.4" lengthAdjust="spacingAndGlyphs" stroke="#1f1f1f" stroke-width="0.5" stroke-linejoin="round" >50</text>
<text transform="translate(29.5 938.1) rotate(-90)" font-size="28" font-weight="normal" text-anchor="middle" fill="#161616" textLength="334.5" lengthAdjust="spacingAndGlyphs" stroke="#161616" stroke-width="1.0" stroke-linejoin="round" >Blood glucose (mg / dl)</text>
<path d="M152.0 1184.6 H415.3" stroke="#1f1f1f" stroke-width="3" fill="none"/>
<line x1="153.5" y1="1184.6" x2="153.5" y2="1193.6999999999998" stroke="#1f1f1f" stroke-width="3" stroke-linecap="butt" />
<line x1="186.6" y1="1184.6" x2="186.6" y2="1193.6999999999998" stroke="#1f1f1f" stroke-width="3" stroke-linecap="butt" />
<line x1="218.6" y1="1184.6" x2="218.6" y2="1193.6999999999998" stroke="#1f1f1f" stroke-width="3" stroke-linecap="butt" />
<line x1="283.6" y1="1184.6" x2="283.6" y2="1193.6999999999998" stroke="#1f1f1f" stroke-width="3" stroke-linecap="butt" />
<line x1="349" y1="1184.6" x2="349" y2="1193.6999999999998" stroke="#1f1f1f" stroke-width="3" stroke-linecap="butt" />
<line x1="413.8" y1="1184.6" x2="413.8" y2="1193.6999999999998" stroke="#1f1f1f" stroke-width="3" stroke-linecap="butt" />
<text transform="translate(153.5 1219)" font-size="24" font-weight="bold" text-anchor="middle" fill="#1f1f1f" textLength="12" lengthAdjust="spacingAndGlyphs" stroke="#1f1f1f" stroke-width="0.5" stroke-linejoin="round" >0</text>
<text transform="translate(186.6 1219)" font-size="24" font-weight="bold" text-anchor="middle" fill="#1f1f1f" textLength="24" lengthAdjust="spacingAndGlyphs" stroke="#1f1f1f" stroke-width="0.5" stroke-linejoin="round" >15</text>
<text transform="translate(218.6 1219)" font-size="24" font-weight="bold" text-anchor="middle" fill="#1f1f1f" textLength="24" lengthAdjust="spacingAndGlyphs" stroke="#1f1f1f" stroke-width="0.5" stroke-linejoin="round" >30</text>
<text transform="translate(283.6 1219)" font-size="24" font-weight="bold" text-anchor="middle" fill="#1f1f1f" textLength="24" lengthAdjust="spacingAndGlyphs" stroke="#1f1f1f" stroke-width="0.5" stroke-linejoin="round" >60</text>
<text transform="translate(349 1219)" font-size="24" font-weight="bold" text-anchor="middle" fill="#1f1f1f" textLength="24" lengthAdjust="spacingAndGlyphs" stroke="#1f1f1f" stroke-width="0.5" stroke-linejoin="round" >90</text>
<text transform="translate(413.8 1219)" font-size="24" font-weight="bold" text-anchor="middle" fill="#1f1f1f" textLength="35.5" lengthAdjust="spacingAndGlyphs" stroke="#1f1f1f" stroke-width="0.5" stroke-linejoin="round" >120</text>
<text transform="translate(446.3 1219)" font-size="25" font-weight="bold" text-anchor="start" fill="#161616" textLength="44.5" lengthAdjust="spacingAndGlyphs" >min</text>
<line x1="186.5" y1="945.5" x2="186.5" y2="912.5" stroke="#6a6a6a" stroke-width="2" stroke-linecap="butt" />
<line x1="180.0" y1="912.5" x2="193.0" y2="912.5" stroke="#6a6a6a" stroke-width="2" stroke-linecap="butt" />
<line x1="186.5" y1="945.5" x2="186.5" y2="978.5" stroke="#6a6a6a" stroke-width="2" stroke-linecap="butt" />
<line x1="180.0" y1="978.5" x2="193.0" y2="978.5" stroke="#6a6a6a" stroke-width="2" stroke-linecap="butt" />
<line x1="218.7" y1="935" x2="218.7" y2="895" stroke="#6a6a6a" stroke-width="2" stroke-linecap="butt" />
<line x1="212.2" y1="895" x2="225.2" y2="895" stroke="#6a6a6a" stroke-width="2" stroke-linecap="butt" />
<line x1="218.7" y1="935" x2="218.7" y2="975.5" stroke="#6a6a6a" stroke-width="2" stroke-linecap="butt" />
<line x1="212.2" y1="975.5" x2="225.2" y2="975.5" stroke="#6a6a6a" stroke-width="2" stroke-linecap="butt" />
<line x1="283.8" y1="975.5" x2="283.8" y2="966.0" stroke="#6a6a6a" stroke-width="2" stroke-linecap="butt" />
<line x1="277.3" y1="966.0" x2="290.3" y2="966.0" stroke="#6a6a6a" stroke-width="2" stroke-linecap="butt" />
<line x1="283.8" y1="975.5" x2="283.8" y2="985.0" stroke="#6a6a6a" stroke-width="2" stroke-linecap="butt" />
<line x1="277.3" y1="985.0" x2="290.3" y2="985.0" stroke="#6a6a6a" stroke-width="2" stroke-linecap="butt" />
<line x1="349" y1="1017.1" x2="349" y2="1001.1" stroke="#6a6a6a" stroke-width="2" stroke-linecap="butt" />
<line x1="342.5" y1="1001.1" x2="355.5" y2="1001.1" stroke="#6a6a6a" stroke-width="2" stroke-linecap="butt" />
<line x1="349" y1="1017.1" x2="349" y2="1034.1" stroke="#6a6a6a" stroke-width="2" stroke-linecap="butt" />
<line x1="342.5" y1="1034.1" x2="355.5" y2="1034.1" stroke="#6a6a6a" stroke-width="2" stroke-linecap="butt" />
<line x1="413.8" y1="1045" x2="413.8" y2="1039" stroke="#6a6a6a" stroke-width="2" stroke-linecap="butt" />
<line x1="407.3" y1="1039" x2="420.3" y2="1039" stroke="#6a6a6a" stroke-width="2" stroke-linecap="butt" />
<line x1="413.8" y1="1045" x2="413.8" y2="1051" stroke="#6a6a6a" stroke-width="2" stroke-linecap="butt" />
<line x1="407.3" y1="1051" x2="420.3" y2="1051" stroke="#6a6a6a" stroke-width="2" stroke-linecap="butt" />
<polyline points="153.8,1071.4 186.5,945.5 218.7,935 283.8,975.5 349,1017.1 413.8,1045" fill="none" stroke="#1f1f1f" stroke-width="2.6" stroke-dasharray="4.6 5.4"/>
<circle cx="153.8" cy="1071.4" r="5.6" fill="#fff" stroke="#1f1f1f" stroke-width="3.1"/>
<circle cx="186.5" cy="945.5" r="5.6" fill="#fff" stroke="#1f1f1f" stroke-width="3.1"/>
<circle cx="218.7" cy="935" r="5.6" fill="#fff" stroke="#1f1f1f" stroke-width="3.1"/>
<circle cx="283.8" cy="975.5" r="5.6" fill="#fff" stroke="#1f1f1f" stroke-width="3.1"/>
<circle cx="349" cy="1017.1" r="5.6" fill="#fff" stroke="#1f1f1f" stroke-width="3.1"/>
<circle cx="413.8" cy="1045" r="5.6" fill="#fff" stroke="#1f1f1f" stroke-width="3.1"/>
<line x1="186.5" y1="855.1" x2="186.5" y2="837.6" stroke="#6a6a6a" stroke-width="2" stroke-linecap="butt" />
<line x1="180.0" y1="837.6" x2="193.0" y2="837.6" stroke="#6a6a6a" stroke-width="2" stroke-linecap="butt" />
<line x1="186.5" y1="855.1" x2="186.5" y2="872.6" stroke="#6a6a6a" stroke-width="2" stroke-linecap="butt" />
<line x1="180.0" y1="872.6" x2="193.0" y2="872.6" stroke="#6a6a6a" stroke-width="2" stroke-linecap="butt" />
<line x1="218.7" y1="800.1" x2="218.7" y2="764.6" stroke="#6a6a6a" stroke-width="2" stroke-linecap="butt" />
<line x1="212.2" y1="764.6" x2="225.2" y2="764.6" stroke="#6a6a6a" stroke-width="2" stroke-linecap="butt" />
<line x1="218.7" y1="800.1" x2="218.7" y2="835.6" stroke="#6a6a6a" stroke-width="2" stroke-linecap="butt" />
<line x1="212.2" y1="835.6" x2="225.2" y2="835.6" stroke="#6a6a6a" stroke-width="2" stroke-linecap="butt" />
<line x1="283.8" y1="935.5" x2="283.8" y2="919.0" stroke="#6a6a6a" stroke-width="2" stroke-linecap="butt" />
<line x1="277.3" y1="919.0" x2="290.3" y2="919.0" stroke="#6a6a6a" stroke-width="2" stroke-linecap="butt" />
<line x1="283.8" y1="935.5" x2="283.8" y2="952.0" stroke="#6a6a6a" stroke-width="2" stroke-linecap="butt" />
<line x1="277.3" y1="952.0" x2="290.3" y2="952.0" stroke="#6a6a6a" stroke-width="2" stroke-linecap="butt" />
<line x1="349" y1="981" x2="349" y2="968" stroke="#6a6a6a" stroke-width="2" stroke-linecap="butt" />
<line x1="342.5" y1="968" x2="355.5" y2="968" stroke="#6a6a6a" stroke-width="2" stroke-linecap="butt" />
<line x1="349" y1="981" x2="349" y2="993.5" stroke="#6a6a6a" stroke-width="2" stroke-linecap="butt" />
<line x1="342.5" y1="993.5" x2="355.5" y2="993.5" stroke="#6a6a6a" stroke-width="2" stroke-linecap="butt" />
<polyline points="153.8,1055.9 186.5,855.1 218.7,800.1 283.8,935.5 349,981 413.8,1023.3" fill="none" stroke="#1f1f1f" stroke-width="3.0" stroke-linejoin="round"/>
<circle cx="153.8" cy="1055.9" r="6.8" fill="#1f1f1f"/>
<circle cx="186.5" cy="855.1" r="6.8" fill="#1f1f1f"/>
<circle cx="218.7" cy="800.1" r="6.8" fill="#1f1f1f"/>
<circle cx="283.8" cy="935.5" r="6.8" fill="#1f1f1f"/>
<circle cx="349" cy="981" r="6.8" fill="#1f1f1f"/>
<circle cx="413.8" cy="1023.3" r="6.8" fill="#1f1f1f"/>
<line x1="321.8" y1="733.8" x2="356.8" y2="733.8" stroke="#1f1f1f" stroke-width="2.8" stroke-dasharray="7 20.5"/>
<circle cx="341.3" cy="733.8" r="5.6" fill="#fff" stroke="#1f1f1f" stroke-width="3"/>
<text transform="translate(374.6 741.4)" font-size="21" font-weight="normal" text-anchor="start" fill="#222" textLength="36" lengthAdjust="spacingAndGlyphs" stroke="#222" stroke-width="0.8" stroke-linejoin="round" >CTL</text>
<line x1="323.3" y1="765.3" x2="360.3" y2="765.3" stroke="#1f1f1f" stroke-width="3.2" stroke-linecap="butt" />
<circle cx="341.3" cy="765.3" r="6.7" fill="#1f1f1f"/>
<text transform="translate(374.6 772.9)" font-size="21" font-weight="normal" text-anchor="start" fill="#222" textLength="41" lengthAdjust="spacingAndGlyphs" stroke="#222" stroke-width="0.8" stroke-linejoin="round" >DEX</text>
<text transform="translate(654.5 735.2)" font-size="32.5" font-weight="bold" text-anchor="middle" fill="#161616" textLength="60" lengthAdjust="spacingAndGlyphs" >PTT</text>
<path d="M574.2 771.4 V1015.8" stroke="#161616" stroke-width="3.3" fill="none"/>
<line x1="565.0500000000001" y1="772.9" x2="574.2" y2="772.9" stroke="#161616" stroke-width="3" stroke-linecap="butt" />
<text transform="translate(559.9 781.6)" font-size="24.5" font-weight="bold" text-anchor="end" fill="#161616" textLength="66" lengthAdjust="spacingAndGlyphs" stroke="#161616" stroke-width="0.5" stroke-linejoin="round" >12000</text>
<line x1="565.0500000000001" y1="853.8" x2="574.2" y2="853.8" stroke="#161616" stroke-width="3" stroke-linecap="butt" />
<text transform="translate(559.9 862.5)" font-size="24.5" font-weight="bold" text-anchor="end" fill="#161616" textLength="52.8" lengthAdjust="spacingAndGlyphs" stroke="#161616" stroke-width="0.5" stroke-linejoin="round" >8000</text>
<line x1="565.0500000000001" y1="934.2" x2="574.2" y2="934.2" stroke="#161616" stroke-width="3" stroke-linecap="butt" />
<text transform="translate(559.9 942.9000000000001)" font-size="24.5" font-weight="bold" text-anchor="end" fill="#161616" textLength="52.8" lengthAdjust="spacingAndGlyphs" stroke="#161616" stroke-width="0.5" stroke-linejoin="round" >4000</text>
<line x1="565.0500000000001" y1="1014.3" x2="574.2" y2="1014.3" stroke="#161616" stroke-width="3" stroke-linecap="butt" />
<text transform="translate(559.9 1023.0)" font-size="24.5" font-weight="bold" text-anchor="end" fill="#161616" textLength="13.2" lengthAdjust="spacingAndGlyphs" stroke="#161616" stroke-width="0.5" stroke-linejoin="round" >0</text>
<text transform="translate(476.2 894.7) rotate(-90)" font-size="24.5" font-weight="normal" text-anchor="middle" fill="#161616" textLength="239.5" lengthAdjust="spacingAndGlyphs" stroke="#161616" stroke-width="0.7" stroke-linejoin="round" >AUC (mg / dl / min)</text>
<line x1="639.4000000000001" y1="895.7" x2="639.4000000000001" y2="875" stroke="#4a4a4a" stroke-width="2.2" stroke-linecap="butt" />
<line x1="628.7" y1="875" x2="650.1000000000001" y2="875" stroke="#4a4a4a" stroke-width="2.6" stroke-linecap="butt" />
<rect x="626.2" y="897.2" width="26.399999999999977" height="116.79999999999995" fill="#fff" stroke="#161616" stroke-width="3"/>
<line x1="679.2" y1="831.4" x2="679.2" y2="815.9" stroke="#4a4a4a" stroke-width="2.2" stroke-linecap="butt" />
<line x1="668.6000000000001" y1="815.9" x2="689.8" y2="815.9" stroke="#4a4a4a" stroke-width="2.6" stroke-linecap="butt" />
<rect x="664.6" y="831.4" width="29.199999999999932" height="184.10000000000002" fill="#161616"/>
<text transform="translate(677.5 817)" font-size="38" font-weight="normal" text-anchor="middle" fill="#161616" >*</text>
<text transform="translate(636.1 1059.6) rotate(-45)" font-size="26" font-weight="normal" text-anchor="middle" fill="#161616" textLength="48.5" lengthAdjust="spacingAndGlyphs" stroke="#161616" stroke-width="0.8" stroke-linejoin="round" >CTL</text>
<text transform="translate(684.2 1059.9) rotate(-45)" font-size="26" font-weight="normal" text-anchor="middle" fill="#161616" textLength="53.5" lengthAdjust="spacingAndGlyphs" stroke="#161616" stroke-width="0.8" stroke-linejoin="round" >DEX</text>
<path d="M983 730.7 V956.9" stroke="#1f1f1f" stroke-width="3.7" fill="none"/>
<line x1="974.55" y1="732.2" x2="983" y2="732.2" stroke="#1f1f1f" stroke-width="3" stroke-linecap="butt" />
<text transform="translate(972.3 740.8000000000001)" font-size="23" font-weight="bold" text-anchor="end" fill="#1f1f1f" stroke="#1f1f1f" stroke-width="0.5" stroke-linejoin="round" >2.4</text>
<line x1="974.55" y1="788.1" x2="983" y2="788.1" stroke="#1f1f1f" stroke-width="3" stroke-linecap="butt" />
<text transform="translate(972.3 796.7)" font-size="23" font-weight="bold" text-anchor="end" fill="#1f1f1f" stroke="#1f1f1f" stroke-width="0.5" stroke-linejoin="round" >1.8</text>
<line x1="974.55" y1="844.2" x2="983" y2="844.2" stroke="#1f1f1f" stroke-width="3" stroke-linecap="butt" />
<text transform="translate(972.3 852.8000000000001)" font-size="23" font-weight="bold" text-anchor="end" fill="#1f1f1f" stroke="#1f1f1f" stroke-width="0.5" stroke-linejoin="round" >1.2</text>
<line x1="974.55" y1="899.8" x2="983" y2="899.8" stroke="#1f1f1f" stroke-width="3" stroke-linecap="butt" />
<text transform="translate(972.3 908.4)" font-size="23" font-weight="bold" text-anchor="end" fill="#1f1f1f" stroke="#1f1f1f" stroke-width="0.5" stroke-linejoin="round" >0.6</text>
<line x1="974.55" y1="955.4" x2="983" y2="955.4" stroke="#1f1f1f" stroke-width="3" stroke-linecap="butt" />
<text transform="translate(972.3 964.0)" font-size="23" font-weight="bold" text-anchor="end" fill="#1f1f1f" stroke="#1f1f1f" stroke-width="0.5" stroke-linejoin="round" >0.0</text>
<text transform="translate(918 842) rotate(-90)" font-size="24" font-weight="normal" text-anchor="middle" fill="#161616" font-style="italic" textLength="148" lengthAdjust="spacingAndGlyphs" stroke="#161616" stroke-width="0.9" stroke-linejoin="round" >pck1/rpl37a</text>
<line x1="1042.8" y1="860.3" x2="1042.8" y2="849.7" stroke="#4a4a4a" stroke-width="2.2" stroke-linecap="butt" />
<line x1="1034.0" y1="849.7" x2="1051.6" y2="849.7" stroke="#4a4a4a" stroke-width="2.6" stroke-linecap="butt" />
<rect x="1031.4" y="861.6999999999999" width="22.79999999999991" height="93.7" fill="#fff" stroke="#161616" stroke-width="2.8"/>
<line x1="1078.25" y1="772.6" x2="1078.25" y2="745.1" stroke="#4a4a4a" stroke-width="2.2" stroke-linecap="butt" />
<line x1="1069.2" y1="745.1" x2="1087.3" y2="745.1" stroke="#4a4a4a" stroke-width="2.6" stroke-linecap="butt" />
<rect x="1065.2" y="772.6" width="26.09999999999991" height="184.19999999999993" fill="#161616"/>
<text transform="translate(1078.2 743.5)" font-size="36" font-weight="normal" text-anchor="middle" fill="#161616" >*</text>
<path d="M1226.7 726.6 V953.2" stroke="#1f1f1f" stroke-width="3.7" fill="none"/>
<line x1="1218.2500000000002" y1="728.1" x2="1226.7" y2="728.1" stroke="#1f1f1f" stroke-width="3" stroke-linecap="butt" />
<text transform="translate(1215.3 736.7)" font-size="23" font-weight="bold" text-anchor="end" fill="#1f1f1f" stroke="#1f1f1f" stroke-width="0.5" stroke-linejoin="round" >1.5</text>
<line x1="1218.2500000000002" y1="802.3" x2="1226.7" y2="802.3" stroke="#1f1f1f" stroke-width="3" stroke-linecap="butt" />
<text transform="translate(1215.3 810.9)" font-size="23" font-weight="bold" text-anchor="end" fill="#1f1f1f" stroke="#1f1f1f" stroke-width="0.5" stroke-linejoin="round" >1.0</text>
<line x1="1218.2500000000002" y1="877" x2="1226.7" y2="877" stroke="#1f1f1f" stroke-width="3" stroke-linecap="butt" />
<text transform="translate(1215.3 885.6)" font-size="23" font-weight="bold" text-anchor="end" fill="#1f1f1f" stroke="#1f1f1f" stroke-width="0.5" stroke-linejoin="round" >0.5</text>
<line x1="1218.2500000000002" y1="951.7" x2="1226.7" y2="951.7" stroke="#1f1f1f" stroke-width="3" stroke-linecap="butt" />
<text transform="translate(1215.3 960.3000000000001)" font-size="23" font-weight="bold" text-anchor="end" fill="#1f1f1f" stroke="#1f1f1f" stroke-width="0.5" stroke-linejoin="round" >0.0</text>
<text transform="translate(1161 840) rotate(-90)" font-size="24" font-weight="normal" text-anchor="middle" fill="#161616" font-style="italic" textLength="146" lengthAdjust="spacingAndGlyphs" stroke="#161616" stroke-width="0.9" stroke-linejoin="round" >gcpc/rpl37a</text>
<line x1="1285.9499999999998" y1="801" x2="1285.9499999999998" y2="798.8" stroke="#4a4a4a" stroke-width="2.2" stroke-linecap="butt" />
<line x1="1277.6" y1="798.8" x2="1294.2999999999997" y2="798.8" stroke="#4a4a4a" stroke-width="2.6" stroke-linecap="butt" />
<rect x="1275.0" y="802.4" width="21.900000000000045" height="149.3" fill="#fff" stroke="#161616" stroke-width="2.8"/>
<line x1="1320.65" y1="797.7" x2="1320.65" y2="774.5" stroke="#4a4a4a" stroke-width="2.2" stroke-linecap="butt" />
<line x1="1311.8000000000002" y1="774.5" x2="1329.5" y2="774.5" stroke="#4a4a4a" stroke-width="2.6" stroke-linecap="butt" />
<rect x="1307.8" y="797.7" width="25.700000000000045" height="155.39999999999998" fill="#161616"/>
<path d="M983 1022.4 V1247.5" stroke="#1f1f1f" stroke-width="3.7" fill="none"/>
<line x1="974.55" y1="1023.9" x2="983" y2="1023.9" stroke="#1f1f1f" stroke-width="3" stroke-linecap="butt" />
<text transform="translate(972.3 1032.5)" font-size="23" font-weight="bold" text-anchor="end" fill="#1f1f1f" stroke="#1f1f1f" stroke-width="0.5" stroke-linejoin="round" >2.4</text>
<line x1="974.55" y1="1079.4" x2="983" y2="1079.4" stroke="#1f1f1f" stroke-width="3" stroke-linecap="butt" />
<text transform="translate(972.3 1088.0)" font-size="23" font-weight="bold" text-anchor="end" fill="#1f1f1f" stroke="#1f1f1f" stroke-width="0.5" stroke-linejoin="round" >1.8</text>
<line x1="974.55" y1="1135" x2="983" y2="1135" stroke="#1f1f1f" stroke-width="3" stroke-linecap="butt" />
<text transform="translate(972.3 1143.6)" font-size="23" font-weight="bold" text-anchor="end" fill="#1f1f1f" stroke="#1f1f1f" stroke-width="0.5" stroke-linejoin="round" >1.2</text>
<line x1="974.55" y1="1190.5" x2="983" y2="1190.5" stroke="#1f1f1f" stroke-width="3" stroke-linecap="butt" />
<text transform="translate(972.3 1199.1)" font-size="23" font-weight="bold" text-anchor="end" fill="#1f1f1f" stroke="#1f1f1f" stroke-width="0.5" stroke-linejoin="round" >0.6</text>
<line x1="974.55" y1="1246" x2="983" y2="1246" stroke="#1f1f1f" stroke-width="3" stroke-linecap="butt" />
<text transform="translate(972.3 1254.6)" font-size="23" font-weight="bold" text-anchor="end" fill="#1f1f1f" stroke="#1f1f1f" stroke-width="0.5" stroke-linejoin="round" >0.0</text>
<text transform="translate(917 1140) rotate(-90)" font-size="25" font-weight="normal" text-anchor="middle" fill="#161616" textLength="184" lengthAdjust="spacingAndGlyphs" stroke="#161616" stroke-width="0.9" stroke-linejoin="round" >PEPCK/β actin</text>
<line x1="1042.8" y1="1150" x2="1042.8" y2="1144.2" stroke="#4a4a4a" stroke-width="2.2" stroke-linecap="butt" />
<line x1="1034.0" y1="1144.2" x2="1051.6" y2="1144.2" stroke="#4a4a4a" stroke-width="2.6" stroke-linecap="butt" />
<rect x="1031.4" y="1151.4" width="22.79999999999991" height="94.6000000000001" fill="#fff" stroke="#161616" stroke-width="2.8"/>
<line x1="1078.55" y1="1074.3" x2="1078.55" y2="1054.1" stroke="#4a4a4a" stroke-width="2.2" stroke-linecap="butt" />
<line x1="1069.5" y1="1054.1" x2="1087.6" y2="1054.1" stroke="#4a4a4a" stroke-width="2.6" stroke-linecap="butt" />
<rect x="1065.5" y="1074.3" width="26.09999999999991" height="173.10000000000014" fill="#161616"/>
<text transform="translate(1079.5 1051)" font-size="36" font-weight="normal" text-anchor="middle" fill="#161616" >*</text>
<path d="M1225.4 1022.0 V1247.2" stroke="#1f1f1f" stroke-width="3.7" fill="none"/>
<line x1="1216.9500000000003" y1="1023.5" x2="1225.4" y2="1023.5" stroke="#1f1f1f" stroke-width="3" stroke-linecap="butt" />
<text transform="translate(1214 1032.1)" font-size="23" font-weight="bold" text-anchor="end" fill="#1f1f1f" stroke="#1f1f1f" stroke-width="0.5" stroke-linejoin="round" >1.5</text>
<line x1="1216.9500000000003" y1="1097.7" x2="1225.4" y2="1097.7" stroke="#1f1f1f" stroke-width="3" stroke-linecap="butt" />
<text transform="translate(1214 1106.3)" font-size="23" font-weight="bold" text-anchor="end" fill="#1f1f1f" stroke="#1f1f1f" stroke-width="0.5" stroke-linejoin="round" >1.0</text>
<line x1="1216.9500000000003" y1="1171.7" x2="1225.4" y2="1171.7" stroke="#1f1f1f" stroke-width="3" stroke-linecap="butt" />
<text transform="translate(1214 1180.3)" font-size="23" font-weight="bold" text-anchor="end" fill="#1f1f1f" stroke="#1f1f1f" stroke-width="0.5" stroke-linejoin="round" >0.5</text>
<line x1="1216.9500000000003" y1="1245.7" x2="1225.4" y2="1245.7" stroke="#1f1f1f" stroke-width="3" stroke-linecap="butt" />
<text transform="translate(1214 1254.3)" font-size="23" font-weight="bold" text-anchor="end" fill="#1f1f1f" stroke="#1f1f1f" stroke-width="0.5" stroke-linejoin="round" >0.0</text>
<text transform="translate(1163 1137) rotate(-90)" font-size="25" font-weight="normal" text-anchor="middle" fill="#161616" textLength="190" lengthAdjust="spacingAndGlyphs" stroke="#161616" stroke-width="0.9" stroke-linejoin="round" >G6Pase/β actin</text>
<line x1="1284.85" y1="1084.2" x2="1284.85" y2="1070.4" stroke="#4a4a4a" stroke-width="2.2" stroke-linecap="butt" />
<line x1="1276.1" y1="1070.4" x2="1293.6" y2="1070.4" stroke="#4a4a4a" stroke-width="2.6" stroke-linecap="butt" />
<rect x="1273.5" y="1085.6000000000001" width="22.7" height="160.09999999999985" fill="#fff" stroke="#161616" stroke-width="2.8"/>
<line x1="1320.65" y1="1066.1" x2="1320.65" y2="1037.4" stroke="#4a4a4a" stroke-width="2.2" stroke-linecap="butt" />
<line x1="1311.8000000000002" y1="1037.4" x2="1329.5" y2="1037.4" stroke="#4a4a4a" stroke-width="2.6" stroke-linecap="butt" />
<rect x="1307.8" y="1066.1" width="25.700000000000045" height="181.0" fill="#161616"/>
<text transform="translate(1039.3 1304.1) rotate(-45)" font-size="26" font-weight="normal" text-anchor="middle" fill="#161616" textLength="48.5" lengthAdjust="spacingAndGlyphs" stroke="#161616" stroke-width="1.1" stroke-linejoin="round" >CTL</text>
<text transform="translate(1087.5 1304.1) rotate(-45)" font-size="26" font-weight="normal" text-anchor="middle" fill="#161616" textLength="53.5" lengthAdjust="spacingAndGlyphs" stroke="#161616" stroke-width="1.1" stroke-linejoin="round" >DEX</text>
<text transform="translate(1284.5 1304.1) rotate(-45)" font-size="26" font-weight="normal" text-anchor="middle" fill="#161616" textLength="48.5" lengthAdjust="spacingAndGlyphs" stroke="#161616" stroke-width="1.1" stroke-linejoin="round" >CTL</text>
<text transform="translate(1332.6 1304.1) rotate(-45)" font-size="26" font-weight="normal" text-anchor="middle" fill="#161616" textLength="53.5" lengthAdjust="spacingAndGlyphs" stroke="#161616" stroke-width="1.1" stroke-linejoin="round" >DEX</text>
<text transform="translate(1137.3 1377.5)" font-size="25.5" font-weight="bold" text-anchor="middle" fill="#161616" textLength="50" lengthAdjust="spacingAndGlyphs" >CTL</text>
<text transform="translate(1231 1377.5)" font-size="25.5" font-weight="bold" text-anchor="middle" fill="#161616" textLength="53" lengthAdjust="spacingAndGlyphs" >DEX</text>
<line x1="1102.6" y1="1397.5" x2="1178" y2="1397.5" stroke="#444" stroke-width="3.2" stroke-linecap="butt" />
<line x1="1194" y1="1397.5" x2="1270" y2="1397.5" stroke="#444" stroke-width="3.2" stroke-linecap="butt" />
<text transform="translate(989 1432.5)" font-size="25.5" font-weight="bold" text-anchor="start" fill="#161616" textLength="92" lengthAdjust="spacingAndGlyphs" >PEPCK</text>
<text transform="translate(989 1465.5)" font-size="25.5" font-weight="bold" text-anchor="start" fill="#161616" textLength="98" lengthAdjust="spacingAndGlyphs" >G6Pase</text>
<text transform="translate(989 1498.5)" font-size="25.5" font-weight="bold" text-anchor="start" fill="#161616" textLength="86" lengthAdjust="spacingAndGlyphs" >β actin</text>
<defs><filter id="bl" x="-20%" y="-100%" width="140%" height="300%"><feGaussianBlur stdDeviation="2.4 1.0"/></filter><linearGradient id="g1" x1="0" y1="0" x2="0" y2="1"><stop offset="0" stop-color="#f6f6f6"/><stop offset="0.55" stop-color="#e2e2e2"/><stop offset="1" stop-color="#bdbdbd"/></linearGradient><linearGradient id="g2" x1="0" y1="0" x2="0" y2="1"><stop offset="0" stop-color="#d2d2d2"/><stop offset="0.5" stop-color="#e6e6e6"/><stop offset="1" stop-color="#dadada"/></linearGradient><linearGradient id="g3" x1="0" y1="0" x2="0" y2="1"><stop offset="0" stop-color="#8e8e8e"/><stop offset="0.22" stop-color="#f4f4f4"/><stop offset="1" stop-color="#f7f7f7"/></linearGradient><clipPath id="c1"><rect x="1096" y="1414.5" width="176" height="21.5"/></clipPath><clipPath id="c2"><rect x="1096" y="1445" width="176" height="22.5"/></clipPath><clipPath id="c3"><rect x="1096" y="1476.5" width="176" height="22"/></clipPath></defs>
<rect x="1096" y="1414.5" width="176" height="21.5" fill="url(#g1)"/>
<g clip-path="url(#c1)">
<ellipse cx="1121.5" cy="1425.8" rx="24.5" ry="2.3" fill="#777" opacity="0.8" filter="url(#bl)"/>
<ellipse cx="1165.0" cy="1426.6" rx="19.0" ry="2.0" fill="#999" opacity="0.7" filter="url(#bl)"/>
<ellipse cx="1206.5" cy="1424.4" rx="22.5" ry="3.0" fill="#2a2a2a" opacity="0.95" filter="url(#bl)"/>
<ellipse cx="1250.0" cy="1424.6" rx="24.0" ry="2.8" fill="#333" opacity="0.9" filter="url(#bl)"/>
</g>
<rect x="1096" y="1414.5" width="176" height="21.5" fill="none" stroke="#151515" stroke-width="2.6" rx="1.5"/>
<rect x="1096" y="1445" width="176" height="22.5" fill="url(#g2)"/>
<g clip-path="url(#c2)">
<ellipse cx="1124.5" cy="1456.2" rx="20.5" ry="3.2" fill="#111" opacity="1" filter="url(#bl)"/>
<ellipse cx="1164.5" cy="1456.6" rx="18.5" ry="2.4" fill="#444" opacity="0.9" filter="url(#bl)"/>
<ellipse cx="1206.5" cy="1455.4" rx="20.5" ry="2.6" fill="#1c1c1c" opacity="0.95" filter="url(#bl)"/>
<ellipse cx="1246.5" cy="1455.6" rx="18.5" ry="2.5" fill="#222" opacity="0.95" filter="url(#bl)"/>
</g>
<rect x="1096" y="1445" width="176" height="22.5" fill="none" stroke="#151515" stroke-width="2.6" rx="1.5"/>
<rect x="1096" y="1476.5" width="176" height="22.0" fill="url(#g3)"/>
<g clip-path="url(#c3)">
<ellipse cx="1119.0" cy="1488.8" rx="23.0" ry="4.6" fill="#000" opacity="1" filter="url(#bl)"/>
<ellipse cx="1161.5" cy="1489.2" rx="25.5" ry="4.6" fill="#000" opacity="1" filter="url(#bl)"/>
<ellipse cx="1207.0" cy="1488.8" rx="20.0" ry="4.2" fill="#000" opacity="1" filter="url(#bl)"/>
<ellipse cx="1251.0" cy="1488.6" rx="24.0" ry="4.8" fill="#000" opacity="1" filter="url(#bl)"/>
</g>
<rect x="1096" y="1476.5" width="176" height="22.0" fill="none" stroke="#151515" stroke-width="2.6" rx="1.5"/>
</svg>
</body>
</html>
